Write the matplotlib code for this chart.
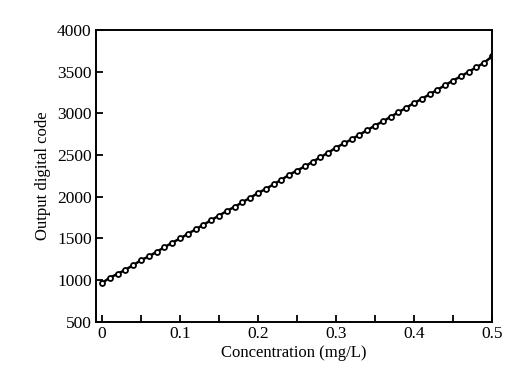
import numpy as np
import matplotlib.pyplot as plt
from matplotlib.ticker import MultipleLocator

# concentration (mg/L) and output digital code
conc = [0.00, 0.01, 0.02, 0.03, 0.04, 0.05, 0.06, 0.07, 0.08, 0.09,
        0.10, 0.11, 0.12, 0.13, 0.14, 0.15, 0.16, 0.17, 0.18, 0.19,
        0.20, 0.21, 0.22, 0.23, 0.24, 0.25, 0.26, 0.27, 0.28, 0.29,
        0.30, 0.31, 0.32, 0.33, 0.34, 0.35, 0.36, 0.37, 0.38, 0.39,
        0.40, 0.41, 0.42, 0.43, 0.44, 0.45, 0.46, 0.47, 0.48, 0.49, 0.50]
code = [965, 1030, 1075, 1125, 1180, 1240, 1285, 1340, 1395, 1450,
        1500, 1555, 1610, 1665, 1720, 1775, 1830, 1880, 1935, 1990,
        2045, 2095, 2150, 2205, 2265, 2315, 2365, 2420, 2475, 2530,
        2590, 2640, 2690, 2745, 2800, 2855, 2905, 2960, 3015, 3070,
        3125, 3175, 3230, 3285, 3340, 3395, 3445, 3500, 3555, 3610, 3685]

plt.rcParams['font.family'] = ['Liberation Serif', 'DejaVu Serif']

fig = plt.figure(figsize=(5.32, 3.76), dpi=100)
ax = fig.add_axes([0.180, 0.144, 0.745, 0.776])

ax.plot(conc, code, '-', color='black', lw=1.8, marker='o', ms=3.6,
        mfc='white', mec='black', mew=1.3)

ax.set_xlim(-0.008, 0.5)
ax.set_ylim(500, 4000)
ax.xaxis.set_minor_locator(MultipleLocator(0.05))
ax.yaxis.set_major_locator(MultipleLocator(500))
ax.set_xticks([0, 0.1, 0.2, 0.3, 0.4, 0.5])
ax.set_xticklabels(['0', '0.1', '0.2', '0.3', '0.4', '0.5'])
ax.tick_params(which='both', direction='in', top=False, right=False,
               width=1.3, labelsize=12.5, pad=3)
ax.tick_params(which='major', length=5)
ax.tick_params(which='minor', length=5)
for s in ax.spines.values():
    s.set_linewidth(1.4)

ax.set_xlabel('Concentration (mg/L)', fontsize=12, labelpad=2)
ax.set_ylabel('Output digital code', fontsize=12, labelpad=4)

fig.savefig('out.png', dpi=100)
